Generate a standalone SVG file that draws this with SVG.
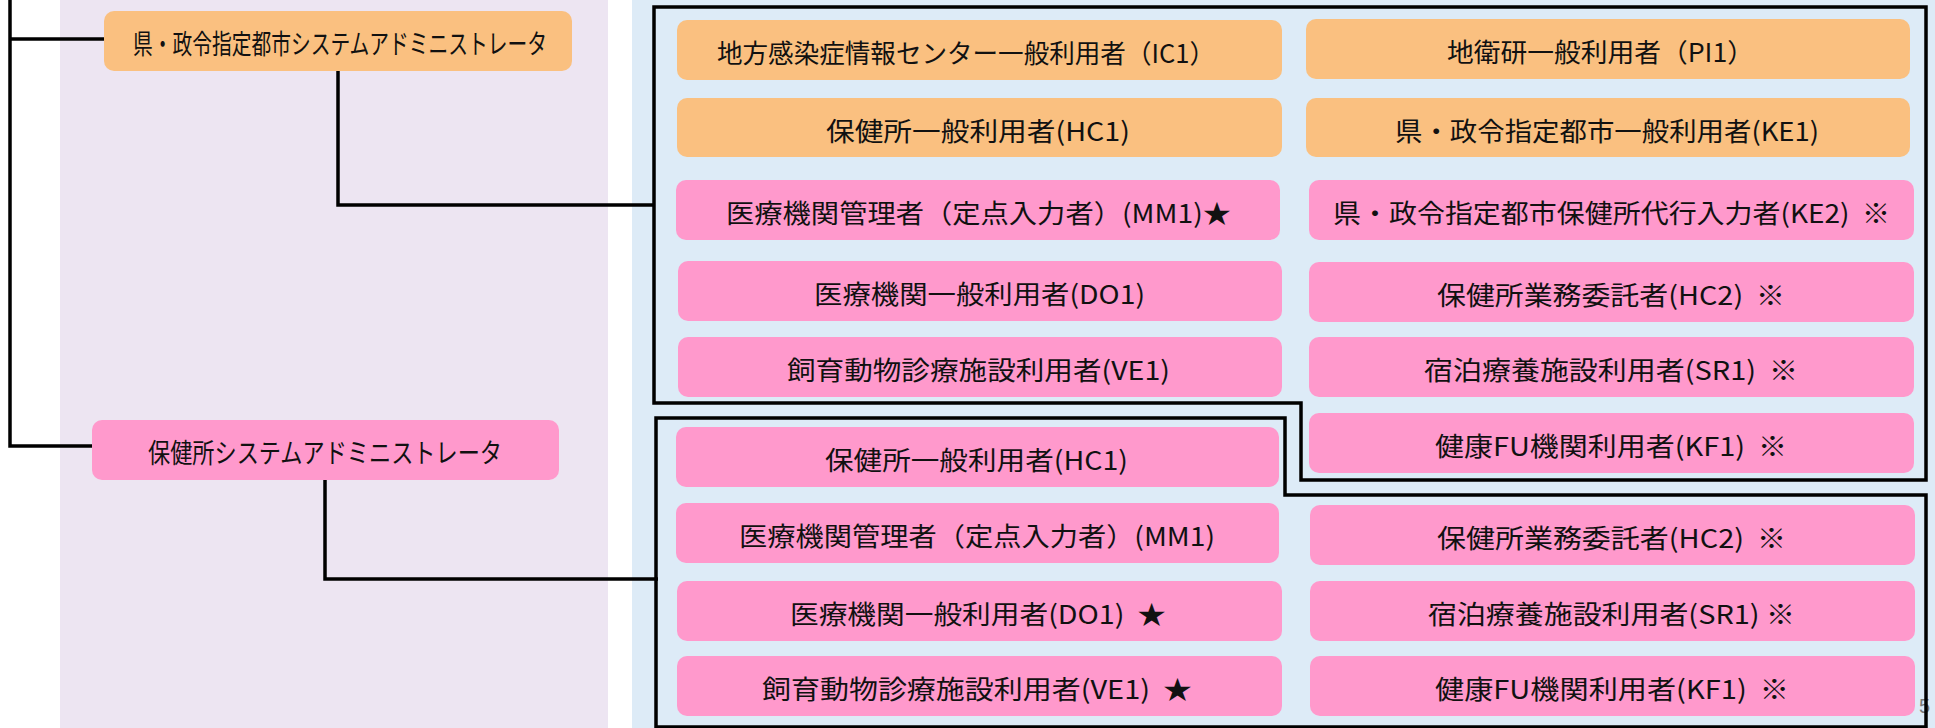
<svg xmlns="http://www.w3.org/2000/svg" width="1935" height="728" viewBox="0 0 1935 728">
<style>
.bg-l{fill:#EDE5F2}
.bg-r{fill:#DDEBF7}
.or{fill:#FAC080}
.pk{fill:#FF99CC}
.t{font-family:"Noto Sans CJK JP","Noto Sans",sans-serif;font-size:26px;fill:#111;dominant-baseline:central}
.ta{font-size:27px}
.frame{fill:none;stroke:#000;stroke-width:3.5;stroke-linejoin:miter}
.conn{fill:none;stroke:#000;stroke-width:3.5;stroke-linejoin:miter}
.pg{font-family:"Liberation Sans",sans-serif;font-size:20px;fill:#7a7a7a}
</style>
<rect x="0" y="0" width="1935" height="728" fill="#ffffff"/>
<rect class="bg-l" x="60" y="0" width="548" height="728"/>
<rect class="bg-r" x="632" y="0" width="1303" height="728"/>

<text class="pg" x="1919" y="713">5</text>

<g id="frames">
<path class="frame" d="M654,7 H1926 V480 H1301 V403 H654 Z"/>
<path class="frame" d="M656,418 H1285 V495 H1926 V727 H656 Z"/>
</g>

<g id="connectors">
<path class="conn" d="M10,0 V446 H92"/>
<path class="conn" d="M10,39 H104"/>
<path class="conn" d="M338,71 V205 H655"/>
<path class="conn" d="M325,480 V579 H658"/>
</g>

<g id="admin-pref">
<rect class="or" x="104" y="11" width="468" height="60" rx="10"/>
<text class="t ta" x="133" y="42" textLength="414" lengthAdjust="spacingAndGlyphs">県・政令指定都市システムアドミニストレータ</text>
</g>
<g id="admin-hc">
<rect class="pk" x="92" y="420" width="467" height="60" rx="10"/>
<text class="t ta" x="148" y="451" textLength="354" lengthAdjust="spacingAndGlyphs">保健所システムアドミニストレータ</text>
</g>

<g id="u-ic1">
<rect class="or" x="677" y="20" width="605" height="60" rx="10"/>
<text class="t" x="717" y="51" textLength="498" lengthAdjust="spacingAndGlyphs">地方感染症情報センター一般利用者（IC1）</text>
</g>
<g id="u-pi1">
<rect class="or" x="1306" y="19" width="604" height="60" rx="10"/>
<text class="t" x="1447" y="50" textLength="307" lengthAdjust="spacingAndGlyphs">地衛研一般利用者（PI1）</text>
</g>
<g id="u-hc1-a">
<rect class="or" x="677" y="98" width="605" height="59" rx="10"/>
<text class="t" x="826" y="129" textLength="304" lengthAdjust="spacingAndGlyphs">保健所一般利用者(HC1)</text>
</g>
<g id="u-ke1">
<rect class="or" x="1306" y="98" width="604" height="59" rx="10"/>
<text class="t" x="1395" y="129" textLength="424" lengthAdjust="spacingAndGlyphs">県・政令指定都市一般利用者(KE1)</text>
</g>
<g id="u-mm1-a">
<rect class="pk" x="676" y="180" width="604" height="60" rx="10"/>
<text class="t" x="726" y="211" textLength="505" lengthAdjust="spacingAndGlyphs">医療機関管理者（定点入力者）(MM1)★</text>
</g>
<g id="u-ke2">
<rect class="pk" x="1309" y="180" width="605" height="60" rx="10"/>
<text class="t" x="1333" y="211" textLength="557" lengthAdjust="spacingAndGlyphs" xml:space="preserve">県・政令指定都市保健所代行入力者(KE2)  ※</text>
</g>
<g id="u-do1-a">
<rect class="pk" x="678" y="261" width="604" height="60" rx="10"/>
<text class="t" x="814" y="292" textLength="331" lengthAdjust="spacingAndGlyphs">医療機関一般利用者(DO1)</text>
</g>
<g id="u-hc2-a">
<rect class="pk" x="1309" y="262" width="605" height="60" rx="10"/>
<text class="t" x="1437" y="293" textLength="348" lengthAdjust="spacingAndGlyphs" xml:space="preserve">保健所業務委託者(HC2)  ※</text>
</g>
<g id="u-ve1-a">
<rect class="pk" x="678" y="337" width="604" height="60" rx="10"/>
<text class="t" x="787" y="368" textLength="383" lengthAdjust="spacingAndGlyphs">飼育動物診療施設利用者(VE1)</text>
</g>
<g id="u-sr1-a">
<rect class="pk" x="1309" y="337" width="605" height="60" rx="10"/>
<text class="t" x="1424" y="368" textLength="374" lengthAdjust="spacingAndGlyphs" xml:space="preserve">宿泊療養施設利用者(SR1)  ※</text>
</g>
<g id="u-kf1-a">
<rect class="pk" x="1309" y="413" width="605" height="60" rx="10"/>
<text class="t" x="1435" y="444" textLength="352" lengthAdjust="spacingAndGlyphs" xml:space="preserve">健康FU機関利用者(KF1)  ※</text>
</g>

<g id="u-hc1-b">
<rect class="pk" x="676" y="427" width="603" height="60" rx="10"/>
<text class="t" x="825" y="458" textLength="303" lengthAdjust="spacingAndGlyphs">保健所一般利用者(HC1)</text>
</g>
<g id="u-mm1-b">
<rect class="pk" x="676" y="503" width="603" height="60" rx="10"/>
<text class="t" x="739" y="534" textLength="476" lengthAdjust="spacingAndGlyphs">医療機関管理者（定点入力者）(MM1)</text>
</g>
<g id="u-hc2-b">
<rect class="pk" x="1310" y="505" width="605" height="60" rx="10"/>
<text class="t" x="1437" y="536" textLength="349" lengthAdjust="spacingAndGlyphs" xml:space="preserve">保健所業務委託者(HC2)  ※</text>
</g>
<g id="u-do1-b">
<rect class="pk" x="677" y="581" width="605" height="60" rx="10"/>
<text class="t" x="790" y="612" textLength="376" lengthAdjust="spacingAndGlyphs" xml:space="preserve">医療機関一般利用者(DO1)  ★</text>
</g>
<g id="u-sr1-b">
<rect class="pk" x="1310" y="581" width="605" height="60" rx="10"/>
<text class="t" x="1428" y="612" textLength="367" lengthAdjust="spacingAndGlyphs" xml:space="preserve">宿泊療養施設利用者(SR1) ※</text>
</g>
<g id="u-ve1-b">
<rect class="pk" x="677" y="656" width="605" height="60" rx="10"/>
<text class="t" x="762" y="687" textLength="430" lengthAdjust="spacingAndGlyphs" xml:space="preserve">飼育動物診療施設利用者(VE1)  ★</text>
</g>
<g id="u-kf1-b">
<rect class="pk" x="1310" y="656" width="605" height="60" rx="10"/>
<text class="t" x="1435" y="687" textLength="354" lengthAdjust="spacingAndGlyphs" xml:space="preserve">健康FU機関利用者(KF1)  ※</text>
</g>
</svg>
